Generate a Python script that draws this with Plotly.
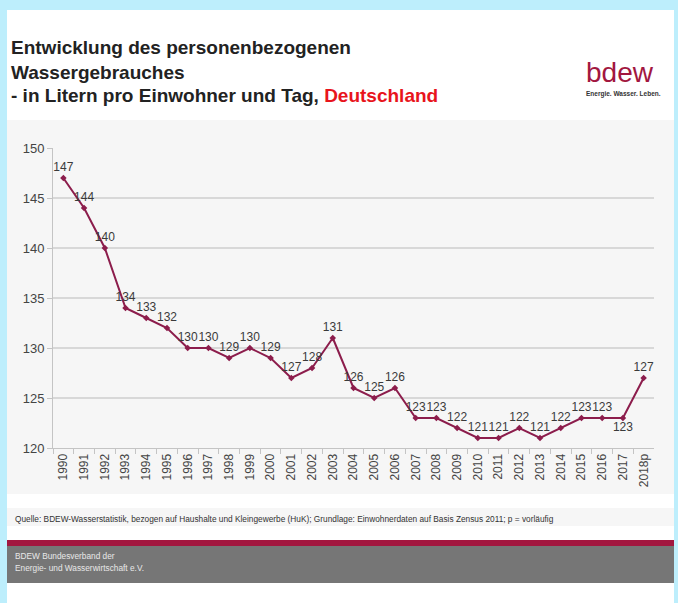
import plotly.graph_objects as go

years = ["1990","1991","1992","1993","1994","1995","1996","1997","1998","1999",
         "2000","2001","2002","2003","2004","2005","2006","2007","2008","2009",
         "2010","2011","2012","2013","2014","2015","2016","2017","2018p"]
values = [147,144,140,134,133,132,130,130,129,130,129,127,128,131,126,125,126,
          123,123,122,121,121,122,121,122,123,123,123,127]
label_pos = ["top center"] * len(years)
label_pos[27] = "bottom center"

W, H = 678, 603
FONT = "Liberation Sans, Arial, sans-serif"
LINE = "#8c1d4c"

def px(x):
    return x / W

def py(y):
    return 1 - y / H

fig = go.Figure()
fig.add_trace(go.Scatter(
    x=years, y=values, mode="lines+markers+text",
    text=[str(v) for v in values], textposition=label_pos,
    textfont=dict(family=FONT, size=12, color="#3a3a3a"),
    line=dict(color=LINE, width=2),
    marker=dict(color=LINE, size=5, symbol="diamond"),
    cliponaxis=False, hoverinfo="skip", showlegend=False,
))

shapes = [
    dict(type="rect", xref="paper", yref="paper", x0=px(7), x1=px(674), y0=0, y1=py(10),
         fillcolor="white", line_width=0, layer="below"),
    dict(type="rect", xref="paper", yref="paper", x0=px(7), x1=px(674), y0=py(494), y1=py(120),
         fillcolor="#f6f6f6", line_width=0, layer="below"),
    dict(type="rect", xref="paper", yref="paper", x0=px(7), x1=px(674), y0=py(526), y1=py(508),
         fillcolor="#f6f6f6", line_width=0, layer="below"),
    dict(type="rect", xref="paper", yref="paper", x0=px(7), x1=px(674), y0=py(546), y1=py(540),
         fillcolor="#a2173f", line_width=0, layer="below"),
    dict(type="rect", xref="paper", yref="paper", x0=px(7), x1=px(674), y0=py(583), y1=py(546),
         fillcolor="#767676", line_width=0, layer="below"),
]

ann = []
def txt(x, y, s, size, color="#222", xanchor="left"):
    ann.append(dict(xref="paper", yref="paper", x=px(x), y=py(y), text=s,
                    showarrow=False, xanchor=xanchor, yanchor="middle",
                    font=dict(family=FONT, size=size, color=color)))

txt(9, 48, "<b>Entwicklung des personenbezogenen</b>", 19)
txt(9, 72, "<b>Wassergebrauches</b>", 19)
txt(9, 96, "<b>- in Litern pro Einwohner und Tag, </b><b><span style='color:#e8141c'>Deutschland</span></b>", 19)
txt(620, 72, "bdew", 28, color="#a2173f", xanchor="center")
txt(623, 94, "<b>Energie. Wasser. Leben.</b>", 6.5, color="#333", xanchor="center")
txt(13, 519, "Quelle: BDEW-Wasserstatistik, bezogen auf Haushalte und Kleingewerbe (HuK); Grundlage: Einwohnerdaten auf Basis Zensus 2011; p = vorläufig", 8.3, color="#333")
txt(13, 556, "BDEW Bundesverband der", 8.3, color="#e8e8e8")
txt(13, 568, "Energie- und Wasserwirtschaft e.V.", 8.3, color="#e8e8e8")

fig.update_layout(
    template="none",
    width=W, height=H, autosize=False,
    margin=dict(l=0, r=0, t=0, b=0, pad=0),
    paper_bgcolor="#bdeefc", plot_bgcolor="rgba(0,0,0,0)",
    shapes=shapes, annotations=ann, showlegend=False,
    xaxis=dict(domain=[px(53), px(654)], type="category", range=[-0.5, 28.5],
               automargin=False,
               tickangle=-90, tickfont=dict(family=FONT, size=12, color="#444"),
               showline=True, linecolor="#c4c4c4", linewidth=1,
               ticks="outside", tickson="boundaries", ticklen=5, tickcolor="#c4c4c4",
               showgrid=False, zeroline=False, fixedrange=True),
    yaxis=dict(domain=[py(448), py(148)], range=[120, 150], dtick=5,
               automargin=False,
               tickfont=dict(family=FONT, size=13, color="#444"),
               showline=True, linecolor="#c4c4c4", linewidth=1,
               ticks="outside", ticklen=5, tickcolor="#c4c4c4",
               showgrid=True, gridcolor="#d8d8d8", gridwidth=1.6,
               zeroline=False, fixedrange=True),
)

fig.write_html("out.html", config={"displayModeBar": False},
               post_script="document.body.style.margin='0';")
